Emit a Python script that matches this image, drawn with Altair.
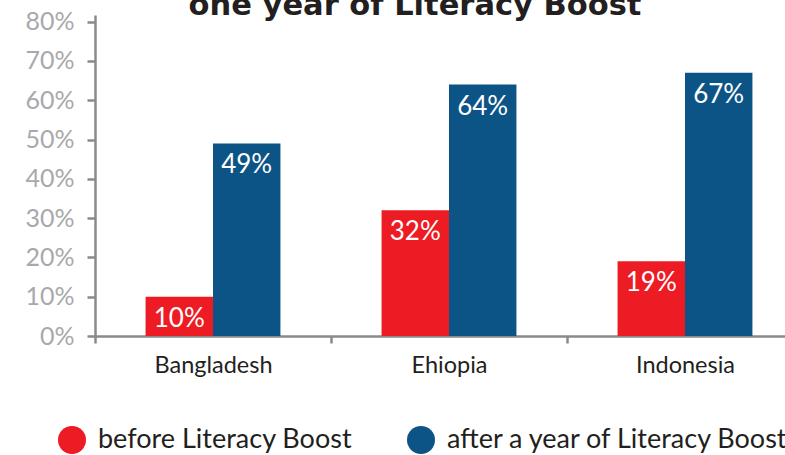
import altair as alt
import pandas as pd

countries = ["Bangladesh", "Ehiopia", "Indonesia"]
before = [10, 32, 19]
after = [49, 64, 67]
series = ["before Literacy Boost", "after a year of Literacy Boost"]
colors = ["#ED1C24", "#0C5486"]
title_text = "one year of Literacy Boost"

rows = []
for c, b, a in zip(countries, before, after):
    rows.append({"country": c, "series": series[0], "value": b, "label": f"{b}%"})
    rows.append({"country": c, "series": series[1], "value": a, "label": f"{a}%"})
df = pd.DataFrame(rows)

FONT = "Lato"

x = alt.X("country:N", sort=countries, title=None,
          scale=alt.Scale(range=[0, 708], paddingInner=0, paddingOuter=0),
          axis=alt.Axis(labelAngle=0, tickBand="extent", labelFontSize=23.5,
                        labelColor="#231f20", labelFont=FONT, labelPadding=10,
                        domainColor="#8a8a8c", domainWidth=2.5, tickColor="#8a8a8c",
                        tickWidth=2.5, tickSize=7))
xo = alt.XOffset("series:N", sort=series,
                 scale=alt.Scale(paddingInner=0, paddingOuter=0.75))
y = alt.Y("value:Q", title=None,
          scale=alt.Scale(domain=[0, 81.7], nice=False),
          axis=alt.Axis(values=[0, 10, 20, 30, 40, 50, 60, 70, 80],
                        labelExpr="datum.value + '%'", labelFontSize=25,
                        labelColor="#a7a9ac", labelFont=FONT, labelPadding=13,
                        grid=False, domainColor="#8a8a8c", domainWidth=2.5,
                        tickColor="#8a8a8c", tickWidth=2.5, tickSize=8))

bars = alt.Chart(df).mark_bar().encode(
    x=x, xOffset=xo, y=y,
    color=alt.Color("series:N", sort=series,
                    scale=alt.Scale(domain=series, range=colors),
                    legend=alt.Legend(title=None, orient="none", legendX=-37, legendY=411,
                                      direction="horizontal", symbolType="circle",
                                      symbolSize=784, symbolStrokeWidth=0,
                                      labelFontSize=27, labelFont=FONT,
                                      labelColor="#231f20", labelOffset=12,
                                      columnPadding=54, labelLimit=500)),
)

text = alt.Chart(df).mark_text(color="white", fontSize=26, font=FONT,
                               baseline="middle", dy=22).encode(
    x=alt.X("country:N", sort=countries),
    xOffset=alt.XOffset("series:N", sort=series),
    y="value:Q",
    text="label:N",
)

chart = alt.layer(bars, text).properties(
    width=690, height=321,
    autosize=alt.AutoSizeParams(type="none"),
    padding={"left": 95, "top": 15, "right": 0, "bottom": 119},
    title=alt.Title(title_text, fontSize=30.5, font="DejaVu Sans", fontWeight="bold",
                    color="#231f20", anchor="middle", baseline="alphabetic",
                    offset=-36, dx=-25, frame="group"),
).configure_view(stroke=None)

chart.save("out.html", embed_options={"renderer": "svg", "actions": False})
